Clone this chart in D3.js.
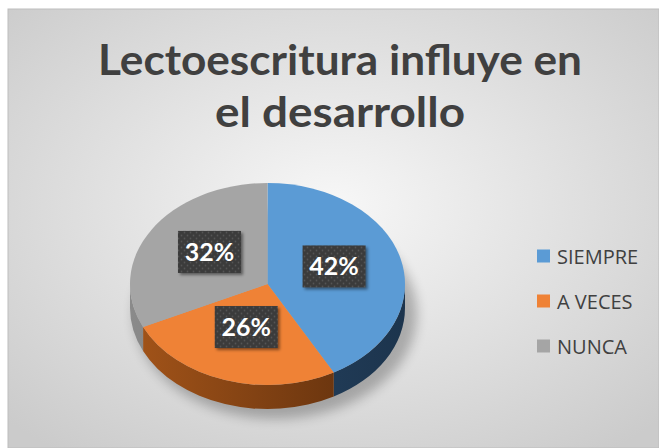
<!DOCTYPE html>
<html><head><meta charset="utf-8">
<script src="https://cdn.jsdelivr.net/npm/d3@7/dist/d3.min.js"></script>
<style>html,body{margin:0;padding:0;background:#fff;}svg{display:block;}</style>
</head><body>
<script>
const categories = ["SIEMPRE", "A VECES", "NUNCA"];
const values = [42, 26, 32];
const labels = ["42%", "26%", "32%"];
const titleLines = ["Lectoescritura influye en", "el desarrollo"];
const topColors = ["#5B9BD5", "#EF8236", "#A5A5A5"];
const sideColors = [["#2c4d6e", "#1c344d"], ["#a35419", "#5a2c0c"], ["#8a8a8a", "#6a6a6a"]];

const W = 659, H = 448;
const svg = d3.select("body").append("svg").attr("width", W).attr("height", H);
const defs = svg.append("defs");

const bg = defs.append("radialGradient").attr("id", "bg").attr("cx", "50%").attr("cy", "45%").attr("r", "70%");
bg.append("stop").attr("offset", "0%").attr("stop-color", "#f7f7f7");
bg.append("stop").attr("offset", "100%").attr("stop-color", "#cbcbcb");

const blur = defs.append("filter").attr("id", "blur").attr("x", "-30%").attr("y", "-30%").attr("width", "160%").attr("height", "160%");
blur.append("feGaussianBlur").attr("stdDeviation", 6);

const lblShadow = defs.append("filter").attr("id", "lshadow").attr("x", "-20%").attr("y", "-20%").attr("width", "150%").attr("height", "160%");
lblShadow.append("feDropShadow").attr("dx", 2).attr("dy", 2).attr("stdDeviation", 1.5).attr("flood-color", "#000").attr("flood-opacity", 0.45);

const pat = defs.append("pattern").attr("id", "dots").attr("width", 6).attr("height", 6).attr("patternUnits", "userSpaceOnUse");
pat.append("rect").attr("width", 6).attr("height", 6).attr("fill", "#3a3a3a");
pat.append("circle").attr("cx", 1.5).attr("cy", 1.5).attr("r", 0.9).attr("fill", "#555");
pat.append("circle").attr("cx", 4.5).attr("cy", 4.5).attr("r", 0.9).attr("fill", "#555");

sideColors.forEach((c, i) => {
  const g = defs.append("linearGradient").attr("id", "side" + i).attr("gradientUnits", "userSpaceOnUse")
    .attr("x1", 130).attr("x2", 405).attr("y1", 0).attr("y2", 0);
  g.append("stop").attr("offset", "0%").attr("stop-color", c[0]);
  g.append("stop").attr("offset", "100%").attr("stop-color", c[1]);
});

// panel
svg.append("rect").attr("x", 8).attr("y", 9).attr("width", W - 8).attr("height", H - 9)
  .attr("fill", "url(#bg)").attr("stroke", "#bdbdbd").attr("stroke-width", 1);

// title
const title = svg.append("g").attr("font-family", "Lato, 'Open Sans', sans-serif").attr("font-weight", "bold")
  .attr("fill", "#404040").attr("text-anchor", "middle");
title.append("text").attr("x", 340).attr("y", 75).attr("font-size", 42)
  .attr("textLength", 484).attr("lengthAdjust", "spacingAndGlyphs").text(titleLines[0]);
title.append("text").attr("x", 340).attr("y", 127).attr("font-size", 42)
  .attr("textLength", 250).attr("lengthAdjust", "spacingAndGlyphs").text(titleLines[1]);

// pie
const cx = 267.5, cy = 284, rx = 137.5, ry = 101, depth = 24;
const pie = d3.pie().sort(null).value(d => d)(values);
const pt = (a, dy = 0) => [cx + rx * Math.sin(a), cy - ry * Math.cos(a) + dy];

// shadow
svg.append("ellipse").attr("cx", cx + 8).attr("cy", cy + depth + 6).attr("rx", rx + 4).attr("ry", ry + 4)
  .attr("fill", "#000").attr("opacity", 0.25).attr("filter", "url(#blur)");

const gPie = svg.append("g");
// sides
pie.forEach((s, i) => {
  const a0 = Math.max(s.startAngle, Math.PI / 2), a1 = Math.min(s.endAngle, 3 * Math.PI / 2);
  if (a1 <= a0) return;
  const p0 = pt(a0), p1 = pt(a1), q1 = pt(a1, depth), q0 = pt(a0, depth);
  const large = (a1 - a0) > Math.PI ? 1 : 0;
  const d = `M${p0}A${rx},${ry} 0 ${large} 1 ${p1}L${q1}A${rx},${ry} 0 ${large} 0 ${q0}Z`;
  gPie.append("path").attr("d", d).attr("fill", `url(#side${i})`);
});
// top face
pie.forEach((s, i) => {
  const p0 = pt(s.startAngle), p1 = pt(s.endAngle);
  const large = (s.endAngle - s.startAngle) > Math.PI ? 1 : 0;
  const d = `M${cx},${cy}L${p0}A${rx},${ry} 0 ${large} 1 ${p1}Z`;
  gPie.append("path").attr("d", d).attr("fill", topColors[i]);
});

// labels
const gLab = svg.append("g");
pie.forEach((s, i) => {
  const m = (s.startAngle + s.endAngle) / 2;
  const x = cx + rx * 0.5 * Math.sin(m), y = cy - 5 - ry * 0.5 * Math.cos(m);
  const bw = 63, bh = 42;
  gLab.append("rect").attr("x", x - bw / 2).attr("y", y - bh / 2).attr("width", bw).attr("height", bh)
    .attr("fill", "url(#dots)").attr("filter", "url(#lshadow)");
  gLab.append("text").attr("x", x).attr("y", y + 9).attr("text-anchor", "middle")
    .attr("font-family", "Lato, 'Open Sans', sans-serif").attr("font-weight", "bold").attr("font-size", 25)
    .attr("fill", "#fff").text(labels[i]);
});

// legend
const lg = svg.append("g");
categories.forEach((c, i) => {
  const y = 256 + i * 45;
  lg.append("rect").attr("x", 537).attr("y", y - 6.5).attr("width", 13).attr("height", 13).attr("fill", topColors[i]);
  lg.append("text").attr("x", 557).attr("y", y + 7.5).attr("font-family", "'Open Sans', sans-serif")
    .attr("font-size", 20).attr("fill", "#404040").text(c);
});
</script>
</body></html>
